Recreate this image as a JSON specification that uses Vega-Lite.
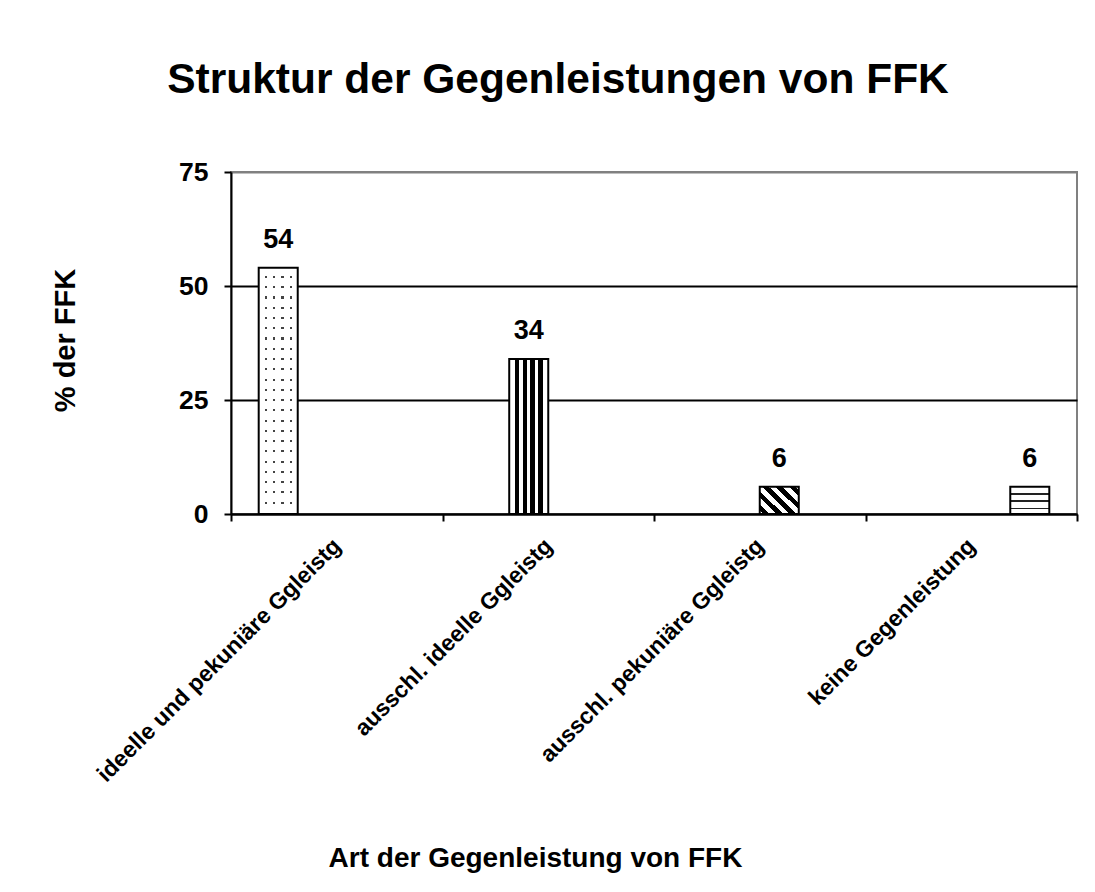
{
  "$schema": "https://vega.github.io/schema/vega-lite/v6.json",
  "width": 846,
  "height": 342,
  "autosize": "none",
  "padding": {"left": 231, "top": 172, "right": 18, "bottom": 378},
  "background": "white",
  "config": {
    "font": "Liberation Sans",
    "view": {"stroke": "#808080", "strokeWidth": 2}
  },
  "title": {
    "text": "Struktur der Gegenleistungen von FFK",
    "font": "Liberation Sans",
    "fontSize": 42.5,
    "fontWeight": "bold",
    "color": "black",
    "anchor": "middle",
    "frame": "group",
    "baseline": "alphabetic",
    "dx": -96,
    "offset": 24
  },
  "data": {
    "values": [
      {"art": "ideelle und pekuniäre Ggleistg", "pct": 54},
      {"art": "ausschl. ideelle Ggleistg", "pct": 34},
      {"art": "ausschl. pekuniäre Ggleistg", "pct": 6},
      {"art": "keine Gegenleistung", "pct": 6}
    ]
  },
  "encoding": {
    "x": {
      "field": "art", "type": "nominal", "sort": null,
      "scale": {"paddingInner": 0, "paddingOuter": 0},
      "axis": {
        "title": "Art der Gegenleistung von FFK",
        "titleFontSize": 28, "titleFontWeight": "bold", "titleColor": "black",
        "titleX": 304, "titleY": 352, "titleAlign": "center", "titleBaseline": "alphabetic",
        "labelAngle": -45, "labelAlign": "right", "labelBaseline": "middle",
        "labelFontSize": 23, "labelFontWeight": "bold", "labelColor": "black",
        "labelPadding": 21, "labelLimit": 600,
        "tickBand": "extent", "tickSize": 7, "tickWidth": 2, "tickColor": "black",
        "domainColor": "black", "domainWidth": 2, "grid": false
      }
    },
    "xOffset": {
      "field": "art", "type": "nominal", "sort": null,
      "scale": {"paddingInner": 0, "paddingOuter": 0.71}
    },
    "y": {
      "field": "pct", "type": "quantitative",
      "scale": {"domain": [0, 75], "nice": false},
      "axis": {
        "values": [0, 25, 50, 75],
        "title": "% der FFK",
        "titleFontSize": 29, "titleFontWeight": "bold", "titleColor": "black",
        "titleX": -166, "titleY": 168, "titleAlign": "center", "titleBaseline": "middle", "titleAngle": -90,
        "labelFontSize": 26.5, "labelFontWeight": "bold", "labelColor": "black", "labelPadding": 16,
        "tickSize": 7, "tickWidth": 2, "tickColor": "black",
        "domainColor": "black", "domainWidth": 2,
        "grid": true, "gridWidth": 2,
        "gridColor": {"condition": {"test": "datum.value === 75", "value": "#808080"}, "value": "black"}
      }
    }
  },
  "layer": [
    {
      "transform": [{"filter": {"field": "art", "equal": "ideelle und pekuniäre Ggleistg"}}],
      "mark": {
        "type": "bar", "strokeWidth": 0,
        "fill": {
          "gradient": "linear", "x1": 0, "y1": 0, "x2": 0, "y2": 1,
          "stops": [
            {"offset": 0, "color": "white"}, {"offset": 0.03317, "color": "white"}, {"offset": 0.03317, "color": "#444"}, {"offset": 0.04167, "color": "#444"},
            {"offset": 0.04167, "color": "white"}, {"offset": 0.07483, "color": "white"}, {"offset": 0.07483, "color": "#444"}, {"offset": 0.08333, "color": "#444"},
            {"offset": 0.08333, "color": "white"}, {"offset": 0.1165, "color": "white"}, {"offset": 0.1165, "color": "#444"}, {"offset": 0.125, "color": "#444"},
            {"offset": 0.125, "color": "white"}, {"offset": 0.15817, "color": "white"}, {"offset": 0.15817, "color": "#444"}, {"offset": 0.16667, "color": "#444"},
            {"offset": 0.16667, "color": "white"}, {"offset": 0.19983, "color": "white"}, {"offset": 0.19983, "color": "#444"}, {"offset": 0.20833, "color": "#444"},
            {"offset": 0.20833, "color": "white"}, {"offset": 0.2415, "color": "white"}, {"offset": 0.2415, "color": "#444"}, {"offset": 0.25, "color": "#444"},
            {"offset": 0.25, "color": "white"}, {"offset": 0.28317, "color": "white"}, {"offset": 0.28317, "color": "#444"}, {"offset": 0.29167, "color": "#444"},
            {"offset": 0.29167, "color": "white"}, {"offset": 0.32483, "color": "white"}, {"offset": 0.32483, "color": "#444"}, {"offset": 0.33333, "color": "#444"},
            {"offset": 0.33333, "color": "white"}, {"offset": 0.3665, "color": "white"}, {"offset": 0.3665, "color": "#444"}, {"offset": 0.375, "color": "#444"},
            {"offset": 0.375, "color": "white"}, {"offset": 0.40817, "color": "white"}, {"offset": 0.40817, "color": "#444"}, {"offset": 0.41667, "color": "#444"},
            {"offset": 0.41667, "color": "white"}, {"offset": 0.44983, "color": "white"}, {"offset": 0.44983, "color": "#444"}, {"offset": 0.45833, "color": "#444"},
            {"offset": 0.45833, "color": "white"}, {"offset": 0.4915, "color": "white"}, {"offset": 0.4915, "color": "#444"}, {"offset": 0.5, "color": "#444"},
            {"offset": 0.5, "color": "white"}, {"offset": 0.53317, "color": "white"}, {"offset": 0.53317, "color": "#444"}, {"offset": 0.54167, "color": "#444"},
            {"offset": 0.54167, "color": "white"}, {"offset": 0.57483, "color": "white"}, {"offset": 0.57483, "color": "#444"}, {"offset": 0.58333, "color": "#444"},
            {"offset": 0.58333, "color": "white"}, {"offset": 0.6165, "color": "white"}, {"offset": 0.6165, "color": "#444"}, {"offset": 0.625, "color": "#444"},
            {"offset": 0.625, "color": "white"}, {"offset": 0.65817, "color": "white"}, {"offset": 0.65817, "color": "#444"}, {"offset": 0.66667, "color": "#444"},
            {"offset": 0.66667, "color": "white"}, {"offset": 0.69983, "color": "white"}, {"offset": 0.69983, "color": "#444"}, {"offset": 0.70833, "color": "#444"},
            {"offset": 0.70833, "color": "white"}, {"offset": 0.7415, "color": "white"}, {"offset": 0.7415, "color": "#444"}, {"offset": 0.75, "color": "#444"},
            {"offset": 0.75, "color": "white"}, {"offset": 0.78317, "color": "white"}, {"offset": 0.78317, "color": "#444"}, {"offset": 0.79167, "color": "#444"},
            {"offset": 0.79167, "color": "white"}, {"offset": 0.82483, "color": "white"}, {"offset": 0.82483, "color": "#444"}, {"offset": 0.83333, "color": "#444"},
            {"offset": 0.83333, "color": "white"}, {"offset": 0.8665, "color": "white"}, {"offset": 0.8665, "color": "#444"}, {"offset": 0.875, "color": "#444"},
            {"offset": 0.875, "color": "white"}, {"offset": 0.90817, "color": "white"}, {"offset": 0.90817, "color": "#444"}, {"offset": 0.91667, "color": "#444"},
            {"offset": 0.91667, "color": "white"}, {"offset": 0.94983, "color": "white"}, {"offset": 0.94983, "color": "#444"}, {"offset": 0.95833, "color": "#444"},
            {"offset": 0.95833, "color": "white"}, {"offset": 1, "color": "white"}
          ]
        }
      }
    },
    {
      "transform": [{"filter": {"field": "art", "equal": "ideelle und pekuniäre Ggleistg"}}],
      "mark": {
        "type": "bar", "stroke": "black", "strokeWidth": 2,
        "fill": {
          "gradient": "linear", "x1": 0, "y1": 0, "x2": 1, "y2": 0,
          "stops": [
            {"offset": 0, "color": "white"}, {"offset": 0.15, "color": "white"},
            {"offset": 0.15, "color": "rgba(255,255,255,0)"}, {"offset": 0.21, "color": "rgba(255,255,255,0)"},
            {"offset": 0.21, "color": "white"}, {"offset": 0.36, "color": "white"},
            {"offset": 0.36, "color": "rgba(255,255,255,0)"}, {"offset": 0.42, "color": "rgba(255,255,255,0)"},
            {"offset": 0.42, "color": "white"}, {"offset": 0.58, "color": "white"},
            {"offset": 0.58, "color": "rgba(255,255,255,0)"}, {"offset": 0.64, "color": "rgba(255,255,255,0)"},
            {"offset": 0.64, "color": "white"}, {"offset": 0.79, "color": "white"},
            {"offset": 0.79, "color": "rgba(255,255,255,0)"}, {"offset": 0.85, "color": "rgba(255,255,255,0)"},
            {"offset": 0.85, "color": "white"}, {"offset": 1, "color": "white"}
          ]
        }
      }
    },
    {
      "transform": [{"filter": {"field": "art", "equal": "ausschl. ideelle Ggleistg"}}],
      "mark": {
        "type": "bar", "stroke": "black", "strokeWidth": 2,
        "fill": {
          "gradient": "linear", "x1": 0, "y1": 0, "x2": 1, "y2": 0,
          "stops": [
            {"offset": 0, "color": "white"}, {"offset": 0.145, "color": "white"},
            {"offset": 0.145, "color": "black"}, {"offset": 0.255, "color": "black"},
            {"offset": 0.255, "color": "white"}, {"offset": 0.345, "color": "white"},
            {"offset": 0.345, "color": "black"}, {"offset": 0.455, "color": "black"},
            {"offset": 0.455, "color": "white"}, {"offset": 0.545, "color": "white"},
            {"offset": 0.545, "color": "black"}, {"offset": 0.655, "color": "black"},
            {"offset": 0.655, "color": "white"}, {"offset": 0.745, "color": "white"},
            {"offset": 0.745, "color": "black"}, {"offset": 0.855, "color": "black"},
            {"offset": 0.855, "color": "white"}, {"offset": 1, "color": "white"}
          ]
        }
      }
    },
    {
      "transform": [{"filter": {"field": "art", "equal": "ausschl. pekuniäre Ggleistg"}}],
      "mark": {
        "type": "bar", "stroke": "black", "strokeWidth": 2,
        "fill": {
          "gradient": "linear", "x1": 0, "y1": 1, "x2": 1.134, "y2": 0.186,
          "stops": [
            {"offset": 0, "color": "white"}, {"offset": 0.05, "color": "white"},
            {"offset": 0.05, "color": "black"}, {"offset": 0.15, "color": "black"},
            {"offset": 0.15, "color": "white"}, {"offset": 0.25, "color": "white"},
            {"offset": 0.25, "color": "black"}, {"offset": 0.35, "color": "black"},
            {"offset": 0.35, "color": "white"}, {"offset": 0.45, "color": "white"},
            {"offset": 0.45, "color": "black"}, {"offset": 0.55, "color": "black"},
            {"offset": 0.55, "color": "white"}, {"offset": 0.65, "color": "white"},
            {"offset": 0.65, "color": "black"}, {"offset": 0.75, "color": "black"},
            {"offset": 0.75, "color": "white"}, {"offset": 0.85, "color": "white"},
            {"offset": 0.85, "color": "black"}, {"offset": 0.95, "color": "black"},
            {"offset": 0.95, "color": "white"}, {"offset": 1, "color": "white"}
          ]
        }
      }
    },
    {
      "transform": [{"filter": {"field": "art", "equal": "keine Gegenleistung"}}],
      "mark": {
        "type": "bar", "stroke": "black", "strokeWidth": 2,
        "fill": {
          "gradient": "linear", "x1": 0, "y1": 0, "x2": 0, "y2": 1,
          "stops": [
            {"offset": 0, "color": "white"}, {"offset": 0.235, "color": "white"},
            {"offset": 0.235, "color": "#222"}, {"offset": 0.305, "color": "#222"},
            {"offset": 0.305, "color": "white"}, {"offset": 0.505, "color": "white"},
            {"offset": 0.505, "color": "#222"}, {"offset": 0.575, "color": "#222"},
            {"offset": 0.575, "color": "white"}, {"offset": 0.765, "color": "white"},
            {"offset": 0.765, "color": "#222"}, {"offset": 0.835, "color": "#222"},
            {"offset": 0.835, "color": "white"}, {"offset": 1, "color": "white"}
          ]
        }
      }
    },
    {
      "mark": {
        "type": "text", "font": "Liberation Sans", "fontSize": 27, "fontWeight": "bold",
        "color": "black", "baseline": "alphabetic", "align": "center", "dy": -20
      },
      "encoding": {"text": {"field": "pct", "type": "quantitative"}}
    }
  ]
}
